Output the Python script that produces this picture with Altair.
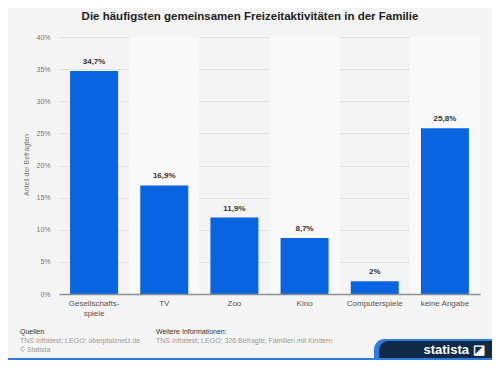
import altair as alt
import pandas as pd

categories = ["Gesellschafts-|spiele", "TV", "Zoo", "Kino", "Computerspiele", "keine Angabe"]
values = [34.7, 16.9, 11.9, 8.7, 2.0, 25.8]
value_labels = ["34,7%", "16,9%", "11,9%", "8,7%", "2%", "25,8%"]
band_flags = [0, 1, 0, 1, 0, 1]
y_ticks = [0, 5, 10, 15, 20, 25, 30, 35, 40]

title_text = "Die häufigsten gemeinsamen Freizeitaktivitäten in der Familie"
y_title = "Anteil der Befragten"

df = pd.DataFrame({"cat": categories, "val": values, "lab": value_labels,
                   "band": band_flags, "top": [40] * len(categories)})

FONT = "Liberation Sans"
W, H = 421, 257

x = alt.X("cat:N", sort=categories,
          scale=alt.Scale(paddingInner=0, paddingOuter=0),
          axis=alt.Axis(title=None, labelExpr="split(datum.label, '|')",
                        labelAngle=0, labelColor="#555555", labelFontSize=8,
                        labelFont=FONT, labelPadding=5, ticks=False,
                        domainColor="#8f8f8f", domainWidth=1.5, labelLineHeight=10))
y_scale = alt.Scale(domain=[0, 40], nice=False)
y_axis = alt.Axis(title=None, values=y_ticks, labelExpr="datum.value + '%'",
                  labelColor="#777777", labelFontSize=7, labelFont=FONT,
                  ticks=False, domain=False, labelPadding=9, labelOverlap=False,
                  gridColor="#e2e2e2", gridWidth=1)

bands = alt.Chart(df).transform_filter("datum.band == 1").mark_rect(
    color="#f9f9f9").encode(
    x=x, y=alt.Y("top:Q", scale=y_scale, axis=y_axis), y2=alt.datum(0))

bars = alt.Chart(df).mark_bar(color="#0864e1", size=48).encode(
    x=x, y=alt.Y("val:Q", scale=y_scale, axis=y_axis))

labels = alt.Chart(df).mark_text(dy=-9, font=FONT, fontSize=8, fontWeight="bold",
                                 color="#333333").encode(
    x=x, y=alt.Y("val:Q", scale=y_scale, axis=y_axis), text="lab:N")

title = alt.Chart(df).transform_filter("datum.band == 0 && datum.val > 30").mark_text(
    font=FONT, fontSize=11.5, fontWeight="bold", color="#222222").encode(
    x=alt.value(191), y=alt.value(-20), text=alt.value(title_text))

ytitle = alt.Chart(df).transform_filter("datum.val > 30").mark_text(
    font=FONT, fontSize=7, color="#777777", angle=270).encode(
    x=alt.value(-32), y=alt.value(128), text=alt.value(y_title))

footer_rows = pd.DataFrame({
    "t": ["Quellen", "TNS Infratest; LEGO; oberpfalznetz.de", "© Statista",
          "Weitere Informationen:", "TNS Infratest; LEGO; 326 Befragte; Familien mit Kindern"],
    "xp": [-39, -39, -39, 97, 97],
    "yp": [295, 304, 313, 295, 304],
    "bold": [1, 0, 0, 1, 0],
})

footer_bold = alt.Chart(footer_rows).transform_filter("datum.bold == 1").mark_text(
    font=FONT, fontSize=7, color="#333333", align="left", baseline="middle").encode(
    x=alt.X("xp:Q", scale=None), y=alt.Y("yp:Q", scale=None), text="t:N")
footer_norm = alt.Chart(footer_rows).transform_filter("datum.bold == 0").mark_text(
    font=FONT, fontSize=7, color="#9a9a9a", align="left", baseline="middle").encode(
    x=alt.X("xp:Q", scale=None), y=alt.Y("yp:Q", scale=None), text="t:N")

logo_line = alt.Chart(df).transform_filter("datum.val > 30").mark_rect(
    color="#2f7de0", cornerRadiusTopLeft=40).encode(
    x=alt.value(315), x2=alt.value(433), y=alt.value(302), y2=alt.value(323))
logo_bg = alt.Chart(df).transform_filter("datum.val > 30").mark_rect(
    color="#0e2a47", cornerRadiusTopLeft=40).encode(
    x=alt.value(320), x2=alt.value(433), y=alt.value(304), y2=alt.value(323))
bottom_line = alt.Chart(df).transform_filter("datum.val > 30").mark_rect(
    color="#2f7de0").encode(
    x=alt.value(-51), x2=alt.value(433), y=alt.value(321), y2=alt.value(323))
logo_text = alt.Chart(df).transform_filter("datum.val > 30").mark_text(
    font=FONT, fontSize=13, fontWeight="bold", color="#ffffff", baseline="middle").encode(
    x=alt.value(395), y=alt.value(313), text=alt.value("statista ◪"))

chart = alt.layer(bands, bars, labels, title, ytitle, footer_bold, footer_norm,
                  logo_line, logo_bg, bottom_line, logo_text).properties(
    width=W, height=H,
    autosize=alt.AutoSizeParams(type="none"),
    padding={"left": 51, "top": 29, "right": 12, "bottom": 66},
    background="#f4f4f4",
).configure_view(stroke=None, fill="#f4f4f4")

chart.save("out.html", embed_options={"renderer": "svg", "actions": False})
